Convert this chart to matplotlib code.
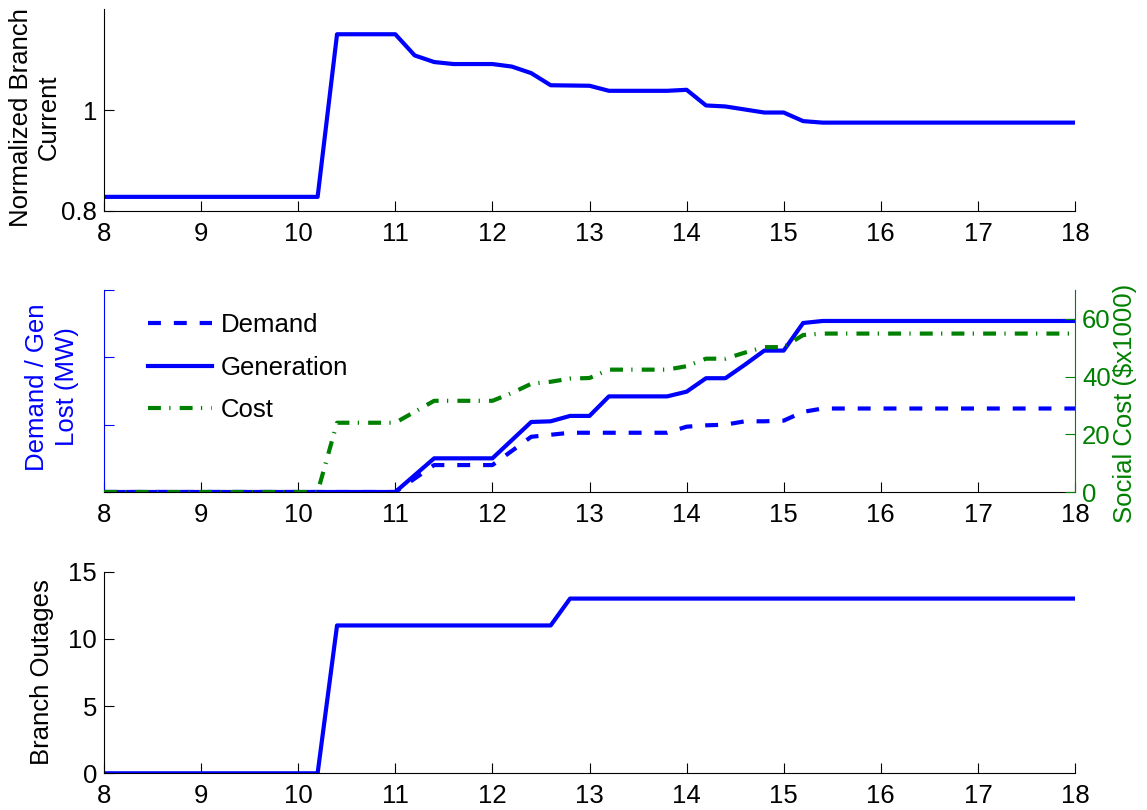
import matplotlib
matplotlib.use("Agg")
import matplotlib.pyplot as plt

plt.rcParams['font.family'] = ['Liberation Sans', 'DejaVu Sans']

# ---- data -------------------------------------------------------------
hour_ticks = [8, 9, 10, 11, 12, 13, 14, 15, 16, 17, 18]

current_t = [8, 10.2, 10.4, 11.0, 11.2, 11.4, 11.6, 12.0, 12.2, 12.4, 12.6,
             13.0, 13.2, 13.8, 14.0, 14.2, 14.4, 14.6, 14.8, 15.0, 15.2,
             15.4, 18]
current_v = [0.828, 0.828, 1.150, 1.150, 1.108, 1.095, 1.091, 1.091, 1.086,
             1.073, 1.049, 1.048, 1.038, 1.038, 1.040, 1.009, 1.007, 1.001,
             0.995, 0.995, 0.978, 0.975, 0.975]

demand_t = [8, 11.0, 11.2, 11.4, 12.0, 12.2, 12.4, 12.6, 12.8, 13.8, 14.0,
            14.2, 14.4, 14.6, 14.8, 15.0, 15.2, 15.4, 18]
demand_v = [0, 0, 20, 40, 40, 61, 82, 85, 88, 88, 97, 99, 100, 105, 105,
            106, 119, 124, 124]

gen_t = [8, 11.0, 11.2, 11.4, 12.0, 12.2, 12.4, 12.6, 12.8, 13.0, 13.2,
         13.8, 14.0, 14.2, 14.4, 14.6, 14.8, 15.0, 15.2, 15.4, 18]
gen_v = [0, 0, 25, 50, 50, 77, 104, 105, 113, 113, 142, 142, 149, 169, 169,
         189, 210, 210, 251, 254, 254]

cost_t = [8, 10.2, 10.4, 11.0, 11.4, 12.0, 12.2, 12.4, 12.6, 12.8, 13.0,
          13.2, 13.8, 14.0, 14.2, 14.4, 14.6, 14.8, 15.0, 15.2, 15.4, 18]
cost_v = [0, 0, 24, 24, 31.6, 31.6, 34.3, 37.5, 38.2, 39.3, 39.5, 42.4,
          42.4, 43.6, 46.2, 46.2, 48.3, 50.2, 50.2, 54.4, 54.9, 54.9]

outage_t = [8, 10.2, 10.4, 12.6, 12.8, 18]
outage_v = [0, 0, 11, 11, 13, 13]

current_ticks = [0.8, 1]
current_labels = ['0.8', '1']
mw_ticks = [0, 100, 200, 300]
cost_ticks = [0, 20, 40, 60]
outage_ticks = [0, 5, 10, 15]

# ---- style ------------------------------------------------------------
BLUE = (0, 0, 1)
GREEN = (0, 0.5, 0)
FS = 18.5
LW = 3

fig = plt.figure(figsize=(11.47, 8.10), dpi=100)
left, width = 104 / 1147, 971 / 1147
h = 202 / 810


def base_style(ax):
    for s in ('top', 'right'):
        ax.spines[s].set_visible(False)
    ax.spines['left'].set_linewidth(0.8)
    ax.spines['bottom'].set_linewidth(0.8)
    ax.tick_params(direction='in', length=7, width=0.8, labelsize=FS)
    ax.tick_params(axis='x', pad=8)
    ax.tick_params(axis='y', pad=5)
    ax.set_xlim(8, 18)
    ax.set_xticks(hour_ticks)


# top: normalized branch current
ax1 = fig.add_axes([left, 1 - 211 / 810, width, h])
base_style(ax1)
ax1.plot(current_t, current_v, color=BLUE, lw=LW)
ax1.set_ylim(0.8, 1.2)
ax1.set_yticks(current_ticks, current_labels)
ax1.set_ylabel('Normalized Branch\nCurrent', fontsize=FS, linespacing=1.2)
ax1.yaxis.set_label_coords(-0.045, 0.465)

# middle: demand / generation lost and social cost
ax2 = fig.add_axes([left, 1 - 492 / 810, width, h])
base_style(ax2)
l_dem, = ax2.plot(demand_t, demand_v, color=BLUE, lw=LW,
                  dashes=(3.1, 3.1), label='Demand')
l_gen, = ax2.plot(gen_t, gen_v, color=BLUE, lw=LW, label='Generation')
ax2.set_ylim(0, 300)
ax2.set_yticks(mw_ticks)
ax2.tick_params(axis='y', labelleft=False, colors=BLUE)
ax2.spines['left'].set_color(BLUE)
ax2.set_ylabel('Demand / Gen\nLost (MW)', fontsize=FS, color=BLUE,
               linespacing=1.3)
ax2.yaxis.set_label_coords(-0.026, 0.52)

ax2r = ax2.twinx()
for s in ('top', 'left', 'bottom'):
    ax2r.spines[s].set_visible(False)
ax2r.spines['right'].set_color(GREEN)
ax2r.spines['right'].set_linewidth(0.8)
l_cost, = ax2r.plot(cost_t, cost_v, color=GREEN, lw=LW,
                    dashes=(3.1, 2.0, 0.3, 2.2), label='Cost')
ax2r.set_ylim(0, 70)
ax2r.set_yticks(cost_ticks)
ax2r.tick_params(axis='y', direction='in', length=7, width=0.8,
                 labelsize=FS, colors=GREEN, pad=5)
ax2r.set_ylabel('Social Cost (\\$x1000)', fontsize=FS, color=GREEN)
ax2r.yaxis.set_label_coords(1.039, 0.44)
ax2r.set_xlim(8, 18)

ax2r.legend(handles=[l_dem, l_gen, l_cost], loc='upper left',
            bbox_to_anchor=(0.0453, 0.885), frameon=False, fontsize=FS,
            borderaxespad=0, borderpad=0, handlelength=2.49,
            handletextpad=0.35, labelspacing=0.72)

# bottom: branch outages
ax3 = fig.add_axes([left, 1 - 773.3 / 810, width, 201.6 / 810])
base_style(ax3)
ax3.plot(outage_t, outage_v, color=BLUE, lw=LW)
ax3.set_ylim(0, 15)
ax3.set_yticks(outage_ticks)
ax3.set_ylabel('Branch Outages', fontsize=FS)
ax3.yaxis.set_label_coords(-0.052, 0.5)

fig.savefig('out.png', dpi=100)
